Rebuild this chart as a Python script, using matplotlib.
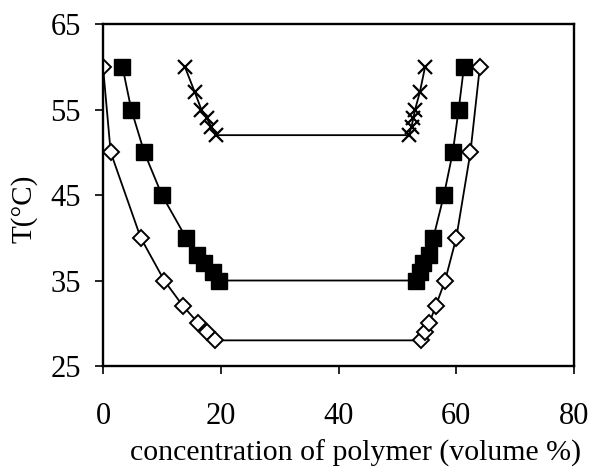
import matplotlib.pyplot as plt

plt.rcParams['font.family'] = ['Liberation Serif', 'DejaVu Serif']

# open diamonds (lower curve)
dia_x = [0, 1.3, 6.4, 10.4, 13.6, 16.2, 17.6, 19.1,
         54.0, 54.7, 55.4, 56.5, 58.1, 60.0, 62.4, 64.0]
dia_y = [60, 50, 40, 35, 32, 30, 29, 28,
         28, 29, 30, 32, 35, 40, 50, 60]

# filled squares (middle curve)
sq_x = [3.3, 4.8, 7.0, 10.0, 14.1, 16.0, 17.2, 18.6, 19.7,
        53.2, 53.8, 54.4, 55.3, 56.1, 57.9, 59.4, 60.4, 61.3]
sq_y = [60, 55, 50, 45, 40, 38, 37, 36, 35,
        35, 36, 37, 38, 40, 45, 50, 55, 60]

# crosses (upper curve)
cr_x = [13.9, 15.6, 16.7, 17.6, 18.4, 19.2,
        51.9, 52.4, 52.7, 53.0, 53.8, 54.7]
cr_y = [60, 57, 55, 54, 53, 52,
        52, 53, 54, 55, 57, 60]

fig = plt.figure(figsize=(5.9, 4.69), dpi=100)
ax = fig.add_axes([0.1746, 0.2196, 0.7984, 0.7292])

ax.plot(dia_x, dia_y, color='black', lw=1.3, marker='D', ms=8,
        mfc='white', mec='black', mew=1.4)
ax.plot(sq_x, sq_y, color='black', lw=1.3, marker='s', ms=11,
        mfc='black', mec='black')
ax.plot(cr_x, cr_y, color='black', lw=1.3, marker='x', ms=10.5,
        mec='black', mew=1.6)

ax.set_xlim(0, 80)
ax.set_ylim(25, 65)
ax.set_xticks([0, 20, 40, 60, 80])
ax.set_yticks([25, 35, 45, 55, 65])

for s in ax.spines.values():
    s.set_linewidth(1.7)

ax.tick_params(axis='y', direction='out', length=6, width=1.2, pad=10, labelsize=22)
ax.tick_params(axis='x', direction='out', length=6, width=1.2, pad=20, labelsize=22)

ax.set_xlabel('concentration of polymer (volume %)', fontsize=21.5)
ax.xaxis.set_label_coords(0.537, -0.215)
ax.set_ylabel('T(°C)', fontsize=21)
ax.yaxis.set_label_coords(-0.14, 0.46)

fig.savefig('out.png', dpi=100)
